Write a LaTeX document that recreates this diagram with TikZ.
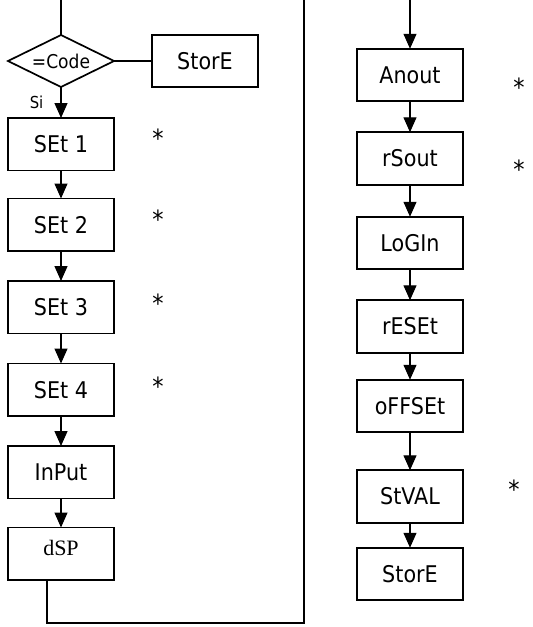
\documentclass[tikz,border=0pt]{standalone}
\usepackage{fontspec}
\setmainfont{DejaVu Sans}[FakeStretch=0.9]
\newfontfamily\serifdsp{Liberation Serif}
\usetikzlibrary{arrows.meta,positioning,shapes.geometric}
\tikzset{
  menu/.style={draw=black, line width=1.7pt, rectangle, minimum width=106pt, minimum height=52.5pt, inner sep=0pt, outer sep=0pt, align=center, font=\fontsize{23}{27}\selectfont},
  test/.style={draw=black, line width=1.7pt, diamond, aspect=2.04, minimum width=106pt, minimum height=52pt, inner sep=0pt, outer sep=0pt, font=\fontsize{19}{22}\selectfont},
  flow/.style={-{Triangle[length=15pt,width=13pt]}, line width=1.3pt, draw=black},
  wire/.style={line width=1.3pt, draw=black},
  starnote/.style={inner sep=0pt, font=\fontsize{25}{29}\selectfont}
}

\begin{document}
\begin{tikzpicture}[x=1pt, y=-1pt, node distance=30pt]
  \useasboundingbox (0,0) rectangle (533,627);
  % left column
  \coordinate (topL) at (61,0);
  \node[test] (code) at (61,61) {=Code};
  \node[menu, right=38pt of code] (storeA) {StorE};
  \node[menu, below=31pt of code] (set1) {SEt 1};
  \node[menu, below=28pt of set1] (set2) {SEt 2};
  \node[menu, below=of set2] (set3) {SEt 3};
  \node[menu, below=of set3] (set4) {SEt 4};
  \node[menu, below=of set4] (input) {InPut};
  \node[menu, below=29pt of input] (dsp) {\serifdsp\fontsize{22}{26}\selectfont\raisebox{6pt}[\height][\depth]{dSP}};
  \node[starnote] (st1) at (158,138) {*};
  \node[starnote] (st2) at (158,219) {*};
  \node[starnote] (st3) at (158,303) {*};
  \node[starnote] (st4) at (158,386) {*};
  % right column
  \coordinate (topM) at (410,0);
  \node[menu] (anout) at (410,75) {Anout};
  \node[menu, below=31pt of anout] (rsout) {rSout};
  \node[menu, below=32pt of rsout] (login) {LoGIn};
  \node[menu, below=31pt of login] (reset) {rESEt};
  \node[menu, below=27pt of reset] (offset) {oFFSEt};
  \node[menu, below=38pt of offset] (stval) {StVAL};
  \node[menu, below=25pt of stval] (storeB) {StorE};
  \node[starnote] (st5) at (519,87) {*};
  \node[starnote] (st6) at (519,169) {*};
  \node[starnote] (st7) at (514,489) {*};
  % connectors
  \draw[wire] (topL) -- (code.north);
  \draw[wire] (code.east) -- (storeA.west);
  \draw[flow] (code.south) -- node[pos=0.5, anchor=east, xshift=-17pt, inner sep=0pt, font=\fontsize{16.5}{19}\selectfont] (si) {Si} (set1.north);
  \draw[flow] (set1) -- (set2);
  \draw[flow] (set2) -- (set3);
  \draw[flow] (set3) -- (set4);
  \draw[flow] (set4) -- (input);
  \draw[flow] (input) -- (dsp);
  \coordinate (loopR) at (304,623);
  \coordinate (topR) at (304,0);
  \draw[wire, line width=1.7pt] ([xshift=-14pt]dsp.south) |- (loopR) -- (topR);
  \draw[flow] (topM) -- (anout.north);
  \draw[flow] (anout) -- (rsout);
  \draw[flow] (rsout) -- (login);
  \draw[flow] (login) -- (reset);
  \draw[flow] (reset) -- (offset);
  \draw[flow] (offset) -- (stval);
  \draw[flow] (stval) -- (storeB);
\end{tikzpicture}
\end{document}
